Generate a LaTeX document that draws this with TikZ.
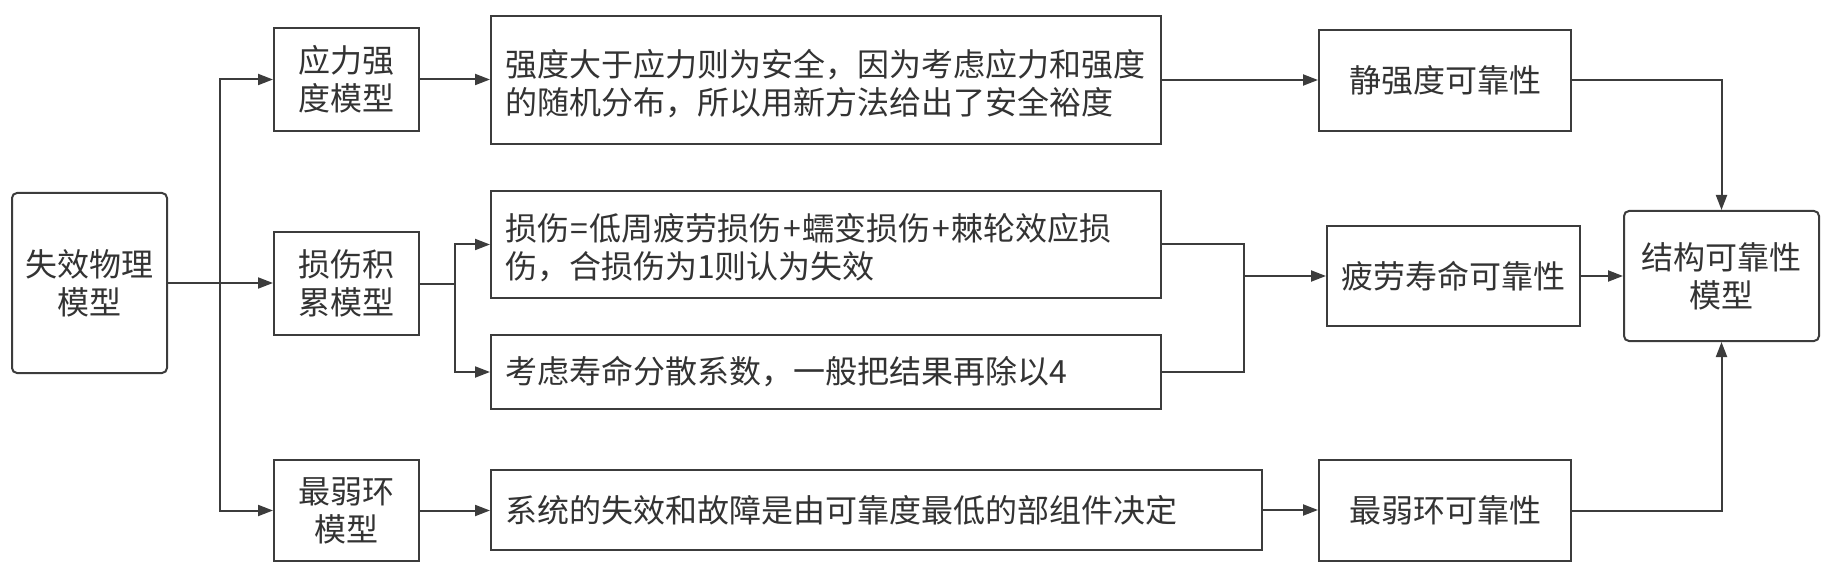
\documentclass[tikz,border=0pt]{standalone}
\usepackage{fontspec}
\setmainfont{Noto Sans CJK SC}
\usetikzlibrary{arrows.meta}
\definecolor{ink}{HTML}{333333}
\definecolor{edge}{HTML}{3C3C3C}
\newcommand{\wsym}[1]{\makebox[21pt]{#1}}
\tikzset{
  box/.style={draw=edge, line width=2pt, fill=white, inner sep=0pt, text=ink,
    font=\fontsize{32pt}{38pt}\selectfont, align=center},
  rbox/.style={box, rounded corners=5pt},
  tbox/.style={box, align=left, inner xsep=14pt},
  ml/.style={execute at begin node={\rule{0pt}{34pt}}},
  arr/.style={draw=edge, line width=2pt, -{Triangle[length=15pt,width=11pt]}},
  ln/.style={draw=edge, line width=2pt},
}
\begin{document}
\begin{tikzpicture}[x=1pt,y=1pt]
\useasboundingbox (0,0) rectangle (1838,-577);
% left column
\node[rbox, ml, minimum width=155pt, minimum height=180pt] (fail) at (89.5,-283) {失效物理\\模型};
% models
\node[box, ml, minimum width=145pt, minimum height=103pt] (m1) at (346.5,-79.5) {应力强\\度模型};
\node[box, ml, minimum width=145pt, minimum height=103pt] (m2) at (346.5,-283.5) {损伤积\\累模型};
\node[box, ml, minimum width=145pt, minimum height=101pt] (m3) at (346.5,-510.5) {最弱环\\模型};
% text boxes
\node[tbox, ml, text width=642pt, minimum height=128pt] (t1) at (826,-80) {强度大于应力则为安全，因为考虑应力和强度\\的随机分布，所以用新方法给出了安全裕度};
\node[tbox, ml, text width=642pt, minimum height=107pt] (t2) at (826,-244.5) {损伤\wsym{=}低周疲劳损伤\wsym{+}蠕变损伤\wsym{+}棘轮效应损\\伤，合损伤为1则认为失效};
\node[tbox, text width=642pt, minimum height=74pt] (t3) at (826,-372) {考虑寿命分散系数，一般把结果再除以4};
\node[tbox, text width=743pt, minimum height=80pt] (t4) at (876.5,-510) {系统的失效和故障是由可靠度最低的部组件决定};
% reliability boxes
\node[box, minimum width=252pt, minimum height=101pt] (r1) at (1445,-80.5) {静强度可靠性};
\node[box, minimum width=253pt, minimum height=100pt] (r2) at (1453.5,-276) {疲劳寿命可靠性};
\node[box, minimum width=252pt, minimum height=101pt] (r3) at (1445,-510.5) {最弱环可靠性};
\node[rbox, ml, minimum width=195pt, minimum height=130pt] (s) at (1721.5,-276) {结构可靠性\\模型};
% junctions
\coordinate (j1) at (220,-283);
\coordinate (j2) at (455,-283.5);
\coordinate (j3) at (1244,-276);
% connectors
\draw[arr] (fail.east) -- (fail.east -| m2.west);
\draw[arr] (j1) |- (m1.west);
\draw[arr] (j1) |- (m3.west);
\draw[arr] (m1.east) -- (m1.east -| t1.west);
\draw[ln] (m2.east) -- (j2);
\draw[arr] (j2) |- (t2.west);
\draw[arr] (j2) |- (t3.west);
\draw[arr] (m3.east) -- (m3.east -| t4.west);
\draw[arr] (t1.east) -- (t1.east -| r1.west);
\draw[ln] (t2.east) -| (j3);
\draw[ln] (t3.east) -| (j3);
\draw[arr] (j3) -- (r2.west);
\draw[arr] (t4.east) -- (t4.east -| r3.west);
\draw[arr] (r2.east) -- (r2.east -| s.west);
\draw[arr] (r1.east) -| (s.north);
\draw[arr] (r3.east) -| (s.south);
\end{tikzpicture}
\end{document}
